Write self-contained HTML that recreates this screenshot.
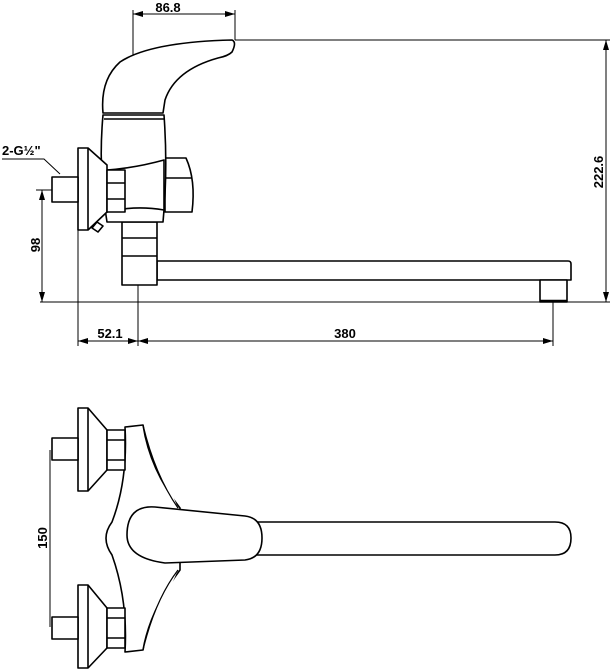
<!DOCTYPE html>
<html><head><meta charset="utf-8"><style>
html,body{margin:0;padding:0;background:#fff;}
svg{display:block;}
text{font-family:"Liberation Sans",sans-serif;font-weight:bold;font-size:13px;fill:#000;}
</style></head><body>
<svg width="610" height="670" viewBox="0 0 610 670" xmlns="http://www.w3.org/2000/svg">
<defs>
<marker id="a" viewBox="0 0 10 6" refX="10" refY="3" markerWidth="10" markerHeight="6" orient="auto-start-reverse" markerUnits="userSpaceOnUse"><path d="M0,0 L10,3 L0,6 z" fill="#000"/></marker>
</defs>
<g fill="none" stroke="#000" stroke-width="1">
<!-- dimension lines -->
<line x1="133" y1="14" x2="235" y2="14" marker-start="url(#a)" marker-end="url(#a)"/>
<line x1="133" y1="10" x2="133" y2="112"/>
<line x1="235" y1="10" x2="235" y2="40"/>
<line x1="235" y1="40" x2="610" y2="40"/>
<line x1="606" y1="40" x2="606" y2="302" marker-start="url(#a)" marker-end="url(#a)"/>
<line x1="40" y1="302" x2="610" y2="302"/>
<line x1="42" y1="190" x2="42" y2="302" marker-start="url(#a)" marker-end="url(#a)"/>
<line x1="36" y1="190" x2="54" y2="190"/>
<line x1="78" y1="230" x2="78" y2="346"/>
<line x1="138" y1="285" x2="138" y2="346"/>
<line x1="553" y1="302" x2="553" y2="346"/>
<line x1="78" y1="341" x2="138" y2="341" marker-start="url(#a)" marker-end="url(#a)"/>
<line x1="138" y1="341" x2="553" y2="341" marker-start="url(#a)" marker-end="url(#a)"/>
<polyline points="2,159 44,159 60,174"/>
<line x1="50" y1="450" x2="50" y2="627"/>
</g>
<g fill="#fff" stroke="#000" stroke-width="1.6" stroke-linejoin="round">
<!-- side view -->
<path d="M157,261 L568,261 Q571,261 571,264 L571,280 L157,280 Z"/>
<rect x="540" y="280" width="27" height="22"/>
<line x1="540" y1="301" x2="567" y2="301" stroke-width="2.5"/>
<rect x="122" y="222" width="35" height="63"/>
<line x1="122" y1="238" x2="157" y2="238"/>
<line x1="122" y1="256" x2="157" y2="256"/>
<path d="M165,158 L186,158 Q196,180 192,212 L165,212 Z"/>
<line x1="165" y1="178" x2="192" y2="178"/>
<path d="M103,115 L164,115 Q168,170 163,222 L107,222 Q98,170 103,115 Z"/>
<line x1="104" y1="119" x2="164" y2="119"/>
<path d="M107,170 Q135,168 164,160 L164,210 Q135,205 107,212 Z"/>
<path d="M103,113 Q100,80 120,62 Q150,42 232,40 Q237,42 232,52 Q228,56 218,58 Q175,70 165,100 L163,113 Z"/>
<path d="M78,148 L88,148 L107,165 L107,212 L88,230 L78,230 Z"/>
<path d="M88,148 L88,230"/>
<rect x="52" y="177" width="26" height="25"/>
<rect x="107" y="170" width="18" height="42"/>
<line x1="107" y1="183" x2="125" y2="183"/>
<line x1="107" y1="199" x2="125" y2="199"/>
<path d="M92,228 L97,222 L103,226 L98,232 Z"/>
<!-- top view -->
<path d="M255,522 L555,522 Q571,522 571,538 Q571,555 555,555 L255,555 Z"/>
<path d="M125,427 L143,425 Q150,470 180,508 L180,570 Q150,610 143,650 L125,652 Q128,600 112,555 Q100,538 112,522 Q128,480 125,427 Z"/>
<path d="M143,425 Q155,475 178,508" stroke-width="1.2"/>
<path d="M143,650 Q155,600 178,570" stroke-width="1.2"/>
<path d="M155,507 L245,516 Q262,518 262,538 Q262,558 245,560 L165,563 Q127,558 127,535 Q127,505 155,507 Z"/>
<path d="M78,408 L88,408 L107,430 L107,470 L88,491 L78,491 Z"/>
<line x1="88" y1="408" x2="88" y2="491"/>
<rect x="52" y="438" width="26" height="22"/>
<rect x="107" y="430" width="18" height="40"/>
<line x1="107" y1="440" x2="125" y2="440"/>
<line x1="107" y1="460" x2="125" y2="460"/>
<path d="M78,585 L88,585 L107,608 L107,648 L88,668 L78,668 Z"/>
<line x1="88" y1="585" x2="88" y2="668"/>
<rect x="52" y="617" width="26" height="22"/>
<rect x="107" y="608" width="18" height="40"/>
<line x1="107" y1="618" x2="125" y2="618"/>
<line x1="107" y1="638" x2="125" y2="638"/>
</g>
<text x="168" y="12" text-anchor="middle">86.8</text>
<text x="2" y="155">2-G½"</text>
<text x="110" y="338" text-anchor="middle">52.1</text>
<text x="345" y="338" text-anchor="middle">380</text>
<text transform="translate(40,245) rotate(-90)" text-anchor="middle">98</text>
<text transform="translate(603,172) rotate(-90)" text-anchor="middle">222.6</text>
<text transform="translate(47,538) rotate(-90)" text-anchor="middle">150</text>
</svg>
</body></html>
